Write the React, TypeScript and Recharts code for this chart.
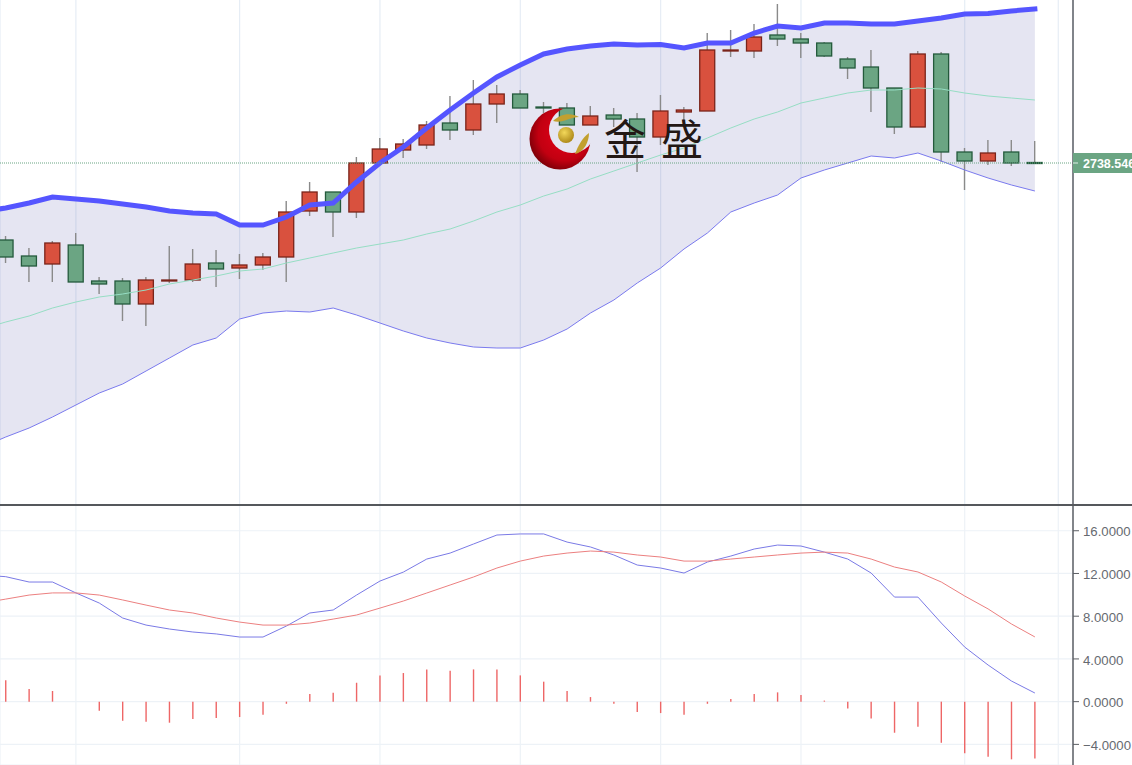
import React from "react";
import { Area, Bar, CartesianGrid, ComposedChart, Line, ReferenceLine, XAxis, YAxis } from "recharts";

// index -1 is the session just off the left edge of the window (indicators only)
const indexes = [-1,0,1,2,3,4,5,6,7,8,9,10,11,12,13,14,15,16,17,18,19,20,21,22,23,24,25,26,27,28,29,30,31,32,33,34,35,36,37,38,39,40,41,42,43,44];
const opens = [null,2723.14,2719.94,2718.34,2722.14,2714.94,2714.94,2710.34,2714.94,2715.14,2718.54,2717.54,2718.14,2719.74,2728.94,2732.74,2728.74,2738.54,2741.14,2742.14,2746.54,2745.14,2750.34,2752.34,2749.74,2749.54,2746.14,2748.14,2747.34,2743.74,2748.74,2748.94,2760.94,2760.94,2764.14,2763.34,2762.54,2759.34,2757.74,2753.54,2745.74,2760.34,2740.74,2738.94,2740.74,2738.64];
const highs = [null,2723.94,2721.54,2722.94,2724.54,2715.74,2715.54,2715.74,2721.94,2721.34,2721.14,2720.34,2720.54,2730.94,2734.74,2732.74,2739.74,2743.54,2743.34,2746.94,2751.94,2755.14,2754.14,2753.14,2750.74,2750.54,2749.94,2749.54,2748.54,2752.14,2749.74,2764.54,2765.14,2766.34,2770.34,2764.54,2762.74,2759.74,2761.14,2753.54,2760.94,2760.74,2741.54,2743.14,2743.14,2742.94];
const lows = [null,2718.54,2714.74,2714.74,2714.74,2712.34,2706.94,2705.94,2714.54,2714.74,2713.74,2715.34,2717.14,2714.74,2727.94,2723.74,2727.54,2738.54,2739.54,2741.34,2743.14,2744.14,2746.54,2749.54,2748.54,2746.14,2746.14,2745.74,2736.74,2742.14,2746.54,2748.94,2759.74,2759.54,2761.94,2759.54,2759.74,2755.34,2748.74,2744.34,2745.74,2738.74,2733.14,2738.14,2737.94,2738.54];
const closes = [null,2719.74,2717.94,2722.54,2714.74,2714.34,2710.34,2715.14,2715.14,2718.34,2717.34,2718.14,2719.74,2728.74,2732.74,2728.74,2738.54,2741.34,2742.34,2746.14,2745.14,2750.34,2752.34,2749.54,2749.54,2746.14,2747.94,2747.34,2743.74,2748.94,2749.14,2761.14,2761.14,2763.74,2763.34,2762.54,2759.94,2757.54,2753.54,2745.74,2760.34,2740.74,2738.94,2740.54,2738.54,2738.54];
const upperBand = [2728.84,2729.54,2730.54,2731.74,2731.34,2730.94,2730.34,2729.74,2728.94,2728.54,2728.34,2726.14,2726.14,2727.74,2730.14,2730.54,2734.74,2738.54,2741.74,2745.54,2749.14,2752.54,2755.74,2758.14,2760.34,2761.34,2761.94,2762.34,2762.14,2762.24,2761.54,2762.54,2762.54,2764.54,2765.94,2765.54,2766.54,2766.54,2766.34,2766.34,2766.94,2767.54,2768.34,2768.44,2768.94,2769.34];
const middleBand = [2705.34,2706.74,2707.94,2709.54,2710.74,2711.74,2712.34,2713.14,2714.34,2715.14,2715.94,2716.94,2717.34,2718.54,2719.54,2720.54,2721.54,2722.34,2723.14,2724.34,2725.34,2726.94,2728.74,2730.14,2731.94,2733.34,2735.34,2736.94,2738.54,2740.14,2741.54,2743.54,2745.54,2747.34,2748.74,2750.54,2751.54,2752.54,2753.14,2753.14,2753.54,2753.34,2752.54,2751.94,2751.54,2751.14];
const lowerBand = [2681.74,2683.74,2685.54,2687.74,2690.14,2692.54,2694.34,2696.94,2699.54,2702.14,2703.54,2707.34,2708.54,2708.94,2708.74,2709.54,2708.14,2706.54,2704.94,2703.54,2702.54,2701.74,2701.54,2701.54,2703.14,2705.34,2708.54,2711.14,2714.54,2717.54,2721.34,2724.54,2728.74,2730.54,2732.14,2735.54,2737.14,2738.54,2739.94,2739.54,2740.54,2738.94,2737.14,2735.54,2734.14,2732.94];
const dif = [11.85,11.7,11.2,11.2,10.18,9.23,7.83,7.17,6.8,6.52,6.34,6.05,6.05,7.08,8.3,8.58,9.98,11.29,12.13,13.35,13.91,14.76,15.6,15.7,15.7,14.94,14.48,13.73,12.79,12.51,12.04,13.07,13.63,14.29,14.66,14.57,14.0,13.35,12.04,9.79,9.79,7.36,5.11,3.43,1.93,0.81];
const dea = [9.23,9.6,9.98,10.18,10.18,9.98,9.52,9.04,8.58,8.3,7.83,7.45,7.17,7.17,7.36,7.73,8.11,8.76,9.42,10.17,10.92,11.67,12.51,13.16,13.63,13.91,14.1,14.0,13.73,13.54,13.16,13.16,13.35,13.54,13.73,13.91,14.0,13.91,13.35,12.6,12.14,11.2,9.89,8.68,7.27,6.06];
const histogram = [null,2.0,1.18,1.0,0,-0.85,-1.79,-1.88,-1.97,-1.63,-1.53,-1.44,-1.22,-0.2,0.71,0.83,1.77,2.46,2.68,3.02,2.89,3.02,3.02,2.46,1.87,0.99,0.43,-0.2,-0.97,-1.07,-1.22,-0.2,0.24,0.71,0.87,0.62,0.1,-0.63,-1.57,-2.91,-2.35,-3.85,-4.83,-5.16,-5.4,-5.31];
const gridTicks = [3,10,16,22,28,34,41,45];
const macdTicks = [16,12,8,4,0,-4];
const lastPrice = 2738.54;
const lastPriceLabel = "2738.546";

const xDomain = [-0.245, 45.63];
const priceDomain = [2670.34, 2771.14];
const macdDomain = [-5.93, 18.41];

const rows = indexes.map((index, i) => ({
  index,
  open: opens[i], high: highs[i], low: lows[i], close: closes[i],
  upper: upperBand[i], middle: middleBand[i], lower: lowerBand[i],
  dif: dif[i], dea: dea[i], histogram: histogram[i],
}));

const UP = "#d9513e";
const UP_EDGE = "#7a241a";
const DOWN = "#6ba583";
const DOWN_EDGE = "#245a3c";
const GRID = "#e6edf5";
const GRID_LIGHT = "#edf2f7";
const AXIS = "#5c5f64";

function Candle(props: any) {
  const { x, y, width, height, payload } = props;
  if (!payload || payload.high == null) return null;
  const k = height / (payload.high - payload.low);
  const up = payload.close >= payload.open;
  const top = y + (payload.high - Math.max(payload.open, payload.close)) * k;
  const bottom = y + (payload.high - Math.min(payload.open, payload.close)) * k;
  const cx = x + width / 2;
  return (
    <g>
      <line x1={cx} x2={cx} y1={y} y2={y + height} stroke="#8a8a8a" strokeWidth={1.4} />
      <rect x={x} y={top} width={width} height={Math.max(bottom - top, 1)}
        fill={up ? UP : DOWN} stroke={up ? UP_EDGE : DOWN_EDGE} strokeWidth={1.3} />
    </g>
  );
}

function PriceTag(props: any) {
  const { x, y } = props;
  const left = x - 8;
  return (
    <g>
      <rect x={left} y={y - 10} width={70} height={20} fill={DOWN} />
      <line x1={left} x2={left + 5} y1={y} y2={y} stroke="#dfeee6" strokeWidth={1} />
      <text x={left + 10} y={y + 4.5} fill="#fff" fontSize={12.5} fontWeight={700} fontFamily="'Liberation Sans', Arial, sans-serif">
        {lastPriceLabel}
      </text>
    </g>
  );
}

const formatMacd = (v: number) => v.toFixed(4).replace("-", "\u2212");

function Logo() {
  return (
    <svg width={190} height={80} viewBox="0 0 190 80" style={{ position: "absolute", left: 520, top: 100, pointerEvents: "none" }}>
      <defs>
        <radialGradient id="crescent" cx="0.58" cy="0.42" r="0.62">
          <stop offset="0" stopColor="#e60019" />
          <stop offset="0.7" stopColor="#c20011" />
          <stop offset="1" stopColor="#7a0008" />
        </radialGradient>
        <radialGradient id="ball" cx="0.4" cy="0.35" r="0.7">
          <stop offset="0" stopColor="#f3d85a" />
          <stop offset="1" stopColor="#a98415" />
        </radialGradient>
        <mask id="cut">
          <rect width="190" height="80" fill="#fff" />
          <circle cx="52" cy="30" r="23" fill="#000" />
        </mask>
      </defs>
      <circle cx="40" cy="39" r="30.5" fill="url(#crescent)" mask="url(#cut)" />
      <circle cx="46" cy="35" r="8" fill="url(#ball)" />
      <path d="M33 21 C40 14 50 12 59 17 C50 17 42 24 33 21 Z" fill="#c2a02f" />
      <path d="M55 54 C58 46 62 38 69 33 C69 42 64 52 55 54 Z" fill="#c2a02f" />
      <text x={84} y={55} fill="#231815" fontSize={42} fontFamily="'Noto Sans CJK SC'">金</text>
      <text x={141} y={55} fill="#231815" fontSize={42} fontFamily="'Noto Sans CJK SC'">盛</text>
    </svg>
  );
}

export default function App() {
  return (
    <div style={{ position: "absolute", left: 0, top: 0, width: 1132, height: 765, overflow: "hidden", background: "#fff" }}>
      <div style={{ position: "absolute", left: 0, top: 0 }}>
        <ComposedChart width={1132} height={504} data={rows} margin={{ top: 0, right: 0, bottom: 0, left: 0 }}>
          <CartesianGrid horizontal={false} stroke={GRID} strokeWidth={1.2} />
          <XAxis dataKey="index" type="number" domain={xDomain} ticks={gridTicks} allowDataOverflow hide />
          <YAxis orientation="right" width={59} domain={priceDomain} allowDataOverflow ticks={[lastPrice]}
            axisLine={{ stroke: AXIS, strokeWidth: 1.5 }} tickLine={false} tick={<PriceTag />} interval={0} />
          <Area dataKey={(d: any) => [d.lower, d.upper]} type="linear" stroke="none" fill="#5050aa" fillOpacity={0.15} isAnimationActive={false} dot={false} activeDot={false} />
          <Line dataKey="upper" type="linear" stroke="#5555ff" strokeWidth={5} strokeLinecap="square" dot={false} activeDot={false} isAnimationActive={false} />
          <Line dataKey="middle" type="linear" stroke="#96dec4" strokeWidth={1} dot={false} activeDot={false} isAnimationActive={false} />
          <Line dataKey="lower" type="linear" stroke="#7a7aee" strokeWidth={1} dot={false} activeDot={false} isAnimationActive={false} />
          <ReferenceLine y={lastPrice} stroke={DOWN} strokeDasharray="1 1" strokeWidth={1} />
          <Bar dataKey={(d: any) => (d.high == null ? null : [d.low, d.high])} barSize={15} shape={<Candle />} isAnimationActive={false} />
        </ComposedChart>
      </div>
      <div style={{ position: "absolute", left: 0, top: 505 }}>
        <ComposedChart width={1132} height={260} data={rows} margin={{ top: 0, right: 0, bottom: 0, left: 0 }}>
          <CartesianGrid stroke={GRID_LIGHT} strokeWidth={1.2} />
          <XAxis dataKey="index" type="number" domain={xDomain} ticks={gridTicks} allowDataOverflow hide />
          <YAxis orientation="right" width={59} domain={macdDomain} allowDataOverflow ticks={macdTicks} interval={0}
            axisLine={{ stroke: AXIS, strokeWidth: 1.5 }} tickLine={{ stroke: AXIS }} tickSize={6} tickMargin={4} tickFormatter={formatMacd}
            tick={{ fill: "#666a70", fontSize: 13.2, dy: 1, fontFamily: "'Liberation Sans', Arial, sans-serif" }} />
          <Bar dataKey="histogram" barSize={1.4} fill="#ee6666" isAnimationActive={false} />
          <Line dataKey="dif" type="linear" stroke="#7a7ae6" strokeWidth={1} dot={false} activeDot={false} isAnimationActive={false} />
          <Line dataKey="dea" type="linear" stroke="#ec8080" strokeWidth={1} dot={false} activeDot={false} isAnimationActive={false} />
        </ComposedChart>
      </div>
      <div style={{ position: "absolute", left: 0, top: 504, width: 1132, height: 2, background: "#55585c" }} />
      <Logo />
    </div>
  );
}
